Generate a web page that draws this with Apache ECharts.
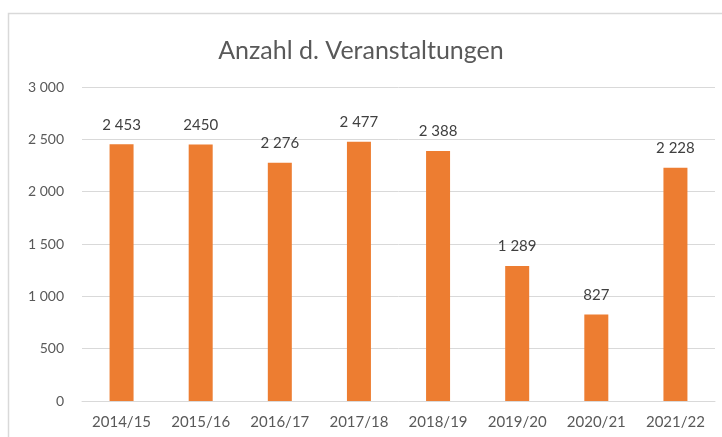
<!DOCTYPE html>
<html>
<head>
<meta charset="utf-8">
<script src="https://cdn.jsdelivr.net/npm/echarts@6/dist/echarts.min.js"></script>
<style>
html, body { margin: 0; padding: 0; background: #fff; }
#chart { width: 722px; height: 437px; }
</style>
</head>
<body>
<div id="chart"></div>
<script>
const categories = ['2014/15', '2015/16', '2016/17', '2017/18', '2018/19', '2019/20', '2020/21', '2021/22']
const values = [2453, 2450, 2276, 2477, 2388, 1289, 827, 2228]
// labels as printed in the source (one has no thousands space)
const valueLabels = ['2 453', '2450', '2 276', '2 477', '2 388', '1 289', '827', '2 228']

const font = 'Lato, "Open Sans", sans-serif'
const chart = echarts.init(document.getElementById('chart'))
chart.setOption({
  animation: false,
  title: {
    text: 'Anzahl d. Veranstaltungen',
    left: 'center',
    top: 33,
    textStyle: { color: '#595959', fontSize: 25, fontWeight: 'normal', fontFamily: font }
  },
  graphic: [{
    type: 'rect',
    shape: { x: 8.5, y: 13.5, width: 730, height: 440 },
    style: { fill: 'none', stroke: '#d9d9d9', lineWidth: 1.5 },
    silent: true
  }],
  grid: { left: 82, right: 7, top: 87, bottom: 36 },
  xAxis: {
    type: 'category',
    data: categories,
    axisTick: { show: false },
    axisLine: { lineStyle: { color: '#d9d9d9' } },
    axisLabel: { color: '#595959', fontSize: 15, fontFamily: font, margin: 14 }
  },
  yAxis: {
    type: 'value',
    min: 0,
    max: 3000,
    interval: 500,
    axisLine: { show: false },
    axisTick: { show: false },
    splitLine: { lineStyle: { color: '#d9d9d9' } },
    axisLabel: {
      color: '#595959',
      fontSize: 14,
      fontFamily: font,
      margin: 18,
      formatter: v => String(v).replace(/\B(?=(\d{3})+(?!\d))/g, ' ')
    }
  },
  series: [{
    type: 'bar',
    data: values,
    barWidth: 24,
    itemStyle: { color: '#ED7D31' },
    label: {
      show: true,
      position: 'top',
      distance: 12,
      color: '#404040',
      fontSize: 15,
      fontFamily: font,
      formatter: p => valueLabels[p.dataIndex]
    }
  }]
})
</script>
</body>
</html>
